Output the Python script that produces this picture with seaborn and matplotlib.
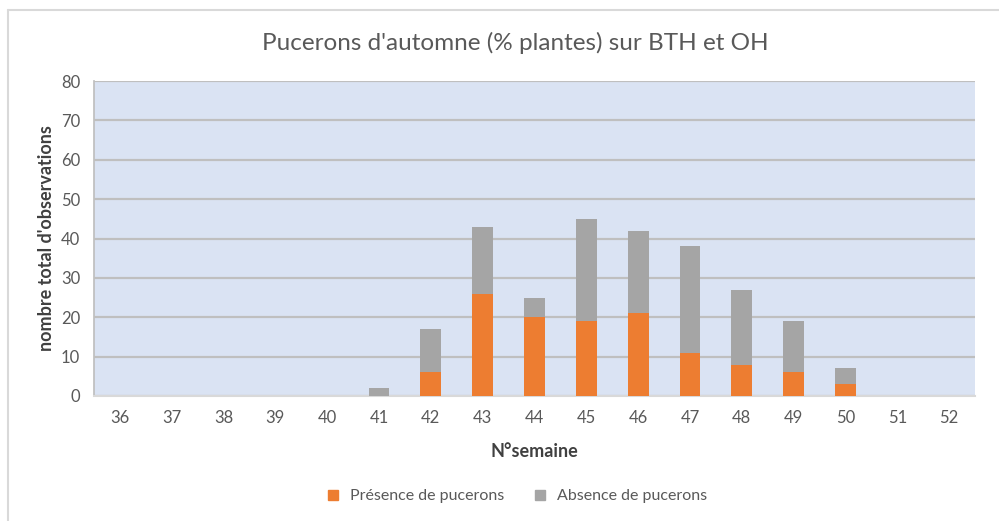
import pandas as pd
import seaborn as sns
import matplotlib.pyplot as plt
from matplotlib.lines import Line2D

# data
weeks = [str(w) for w in range(36, 53)]
presence = [0, 0, 0, 0, 0, 0, 6, 26, 20, 19, 21, 11, 8, 6, 3, 0, 0]
absence = [0, 0, 0, 0, 0, 2, 11, 17, 5, 26, 21, 27, 19, 13, 4, 0, 0]

df = pd.DataFrame({"semaine": weeks, "presence": presence, "absence": absence})

sns.set_theme(style="white")
plt.rcParams['font.family'] = ['Lato', 'DejaVu Sans']

orange = "#ED7D31"
grey = "#A5A5A5"
txt = "#595959"

fig = plt.figure(figsize=(9.99, 5.21), dpi=100)
ax = fig.add_axes([94 / 999, 1 - 396 / 521, 881 / 999, 315 / 521])
ax.set_facecolor("#DAE3F3")

sns.barplot(data=df, x="semaine", y="presence", order=weeks, color=orange,
            width=0.4, saturation=1, ax=ax, zorder=3, linewidth=0)
sns.barplot(data=df, x="semaine", y="absence", order=weeks, color=grey,
            width=0.4, saturation=1, ax=ax, zorder=3, linewidth=0,
            bottom=df["presence"])

ax.set_ylim(0, 80)
ax.set_xlim(-0.5, len(weeks) - 0.5)
ax.set_yticks(range(0, 81, 10))
ax.yaxis.grid(True, color="#BFBFBF", linewidth=1.6, zorder=0)
ax.set_axisbelow(True)
for s in ["top", "right"]:
    ax.spines[s].set_visible(False)
ax.spines["left"].set_color("#BFBFBF")
ax.spines["bottom"].set_color("#D9D9D9")
ax.spines["bottom"].set_linewidth(1.5)
ax.tick_params(axis="both", length=0, labelsize=12, colors=txt, pad=10)

ax.set_xlabel("N°semaine", fontsize=13, fontweight="bold", color="#404040", labelpad=12)
ax.set_ylabel("nombre total d'observations", fontsize=13, fontweight="bold",
              color="#404040", labelpad=4)

fig.text(515 / 999, 1 - 43 / 521, "Pucerons d'automne (% plantes) sur BTH et OH",
         ha="center", va="center", fontsize=17.5, color=txt)

handles = [Line2D([], [], marker="s", linestyle="", color=orange, markersize=7),
           Line2D([], [], marker="s", linestyle="", color=grey, markersize=7)]
fig.legend(handles, ["Présence de pucerons", "Absence de pucerons"],
           loc="center", bbox_to_anchor=(512 / 999, 1 - 496 / 521), ncol=2,
           frameon=False, fontsize=11.5, labelcolor=txt, handletextpad=0.1,
           columnspacing=1.2)

# outer chart frame (top and left edges visible)
fig.add_artist(Line2D([8 / 999, 1], [1 - 10 / 521] * 2, color="#D9D9D9", lw=1.5,
                      transform=fig.transFigure))
fig.add_artist(Line2D([8 / 999] * 2, [0, 1 - 10 / 521], color="#D9D9D9", lw=1.5,
                      transform=fig.transFigure))

fig.savefig("out.png", dpi=100)
